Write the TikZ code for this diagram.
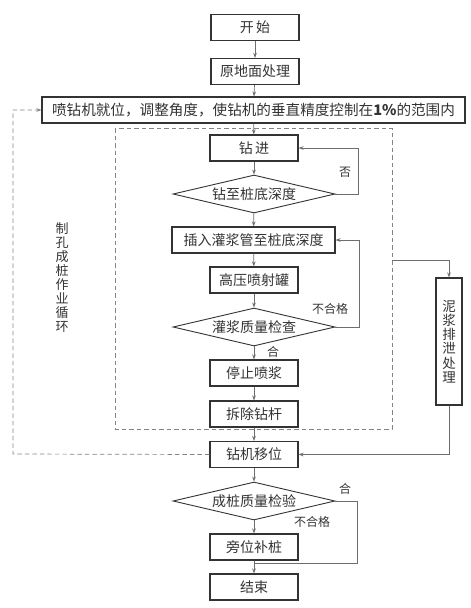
\documentclass[tikz,border=0pt]{standalone}
\usepackage{fontspec}
\setmainfont{Noto Sans CJK SC}
\usetikzlibrary{shapes.geometric,arrows.meta}
\definecolor{boxline}{HTML}{333333}
\definecolor{flowline}{HTML}{6E6E6E}
\tikzset{
	stepbox/.style={draw=boxline, line width=1.1pt, minimum width=88pt, minimum height=26pt, inner sep=0pt, text=boxline, font=\fontsize{14}{14}\selectfont},
	testbox/.style={diamond, draw=boxline, line width=0.9pt, aspect=4.26, minimum width=162pt, minimum height=38pt, inner sep=0pt, text=boxline, font=\fontsize{14}{14}\selectfont},
	flowarrow/.style={draw=flowline, line width=0.7pt, -{Stealth[length=5pt,width=3.6pt]}},
	flowplain/.style={draw=flowline, line width=0.7pt},
	loopline/.style={draw=flowline!85, line width=0.7pt, dash pattern=on 4.5pt off 3pt},
	answer/.style={inner sep=0pt, text=boxline, font=\fontsize{12}{12}\selectfont},
}

\begin{document}
\begin{tikzpicture}[x=1pt, y=-1pt]
		%%%%% START %%%%%
		\useasboundingbox (0, 0) rectangle (471, 608);
		
		\node[stepbox] (start) at (255, 27.5) {开\,始};
		\node[stepbox] (ground) at (255, 71.5) {原地面处理};
		\node[stepbox, minimum width=423pt, font=\fontsize{14.6}{14.6}\selectfont] (position) at (253.5, 110) {喷钻机就位，调整角度，使钻机的垂直精度控制在\textbf{1\%}的范围内};
		
		% drilling cycle
		\draw[loopline] (115, 128) rectangle (392, 429);
		\node[stepbox] (drill) at (254, 148) {钻\,进};
		\node[testbox] (depth) at (254, 194) {钻至桩底深度};
		\node[stepbox, minimum width=163pt] (insert) at (253.5, 240) {插入灌浆管至桩底深度};
		\node[stepbox] (pump) at (254, 280) {高压喷射罐};
		\node[testbox] (grout) at (254, 327) {灌浆质量检查};
		\node[stepbox] (stop) at (254, 373) {停止喷浆};
		\node[stepbox] (remove) at (254, 414) {拆除钻杆};
		\node[stepbox] (move) at (254, 454.5) {钻机移位};
		
		\node[align=center, inner sep=0pt, text=boxline, font=\fontsize{13}{13.9}\selectfont] (cyclename) at (62, 277.5) {制\\孔\\成\\桩\\作\\业\\循\\环};
		
		% mud
		\node[stepbox, minimum width=26pt, minimum height=127pt, align=center, font=\fontsize{13.5}{14.2}\selectfont] (mud) at (449, 341.5) {泥\\浆\\排\\泄\\处\\理};
		\coordinate (mudout) at (392, 260);
		
		% pile check
		\node[testbox] (pile) at (254, 501) {成桩质量检验};
		\node[stepbox] (refill) at (254, 547) {旁位补桩};
		\node[stepbox] (finish) at (254, 587) {结束};
		\coordinate (join) at (254, 563);
		\coordinate (back) at (13, 454);
		
		\draw[flowarrow] (start) -- (ground);
		\draw[flowarrow] (ground) -- (position);
		\draw[flowarrow] (position) -- (drill);
		\draw[flowarrow] (drill) -- (depth);
		\draw[flowarrow] (depth) -- (insert);
		\draw[flowarrow] (insert) -- (pump);
		\draw[flowarrow] (pump) -- (grout);
		\draw[flowarrow] (grout) -- (stop);
		\draw[flowarrow] (stop) -- (remove);
		\draw[flowarrow] (remove) -- (move);
		\draw[flowarrow] (move) -- (pile);
		\draw[flowarrow] (pile) -- (refill);
		\draw[flowarrow] (refill) -- (finish);
		
		\draw[flowarrow] (depth.east) -- ++(23, 0) |- (drill.east);
		\draw[flowarrow] (grout.east) -- ++(24, 0) |- (insert.east);
		\draw[flowplain] (pile.east) -- ++(22, 0) |- (join);
		
		\draw[flowarrow] (mudout) -| (mud.north);
		\draw[flowarrow] (mud.south) |- (move.east);
		
		\draw[loopline, -{Stealth[length=5pt,width=3.6pt]}] (move.west) -- (back) |- (position.west);
		
		\node[answer] (no) at (345, 172) {否};
		\node[answer] (groutbad) at (330, 309) {不合格};
		\node[answer] (groutok) at (273, 352) {合};
		\node[answer] (pileok) at (345, 489) {合};
		\node[answer] (pilebad) at (312, 522) {不合格};
		
		%%%%% END %%%%%
	\end{tikzpicture}
\end{document}
